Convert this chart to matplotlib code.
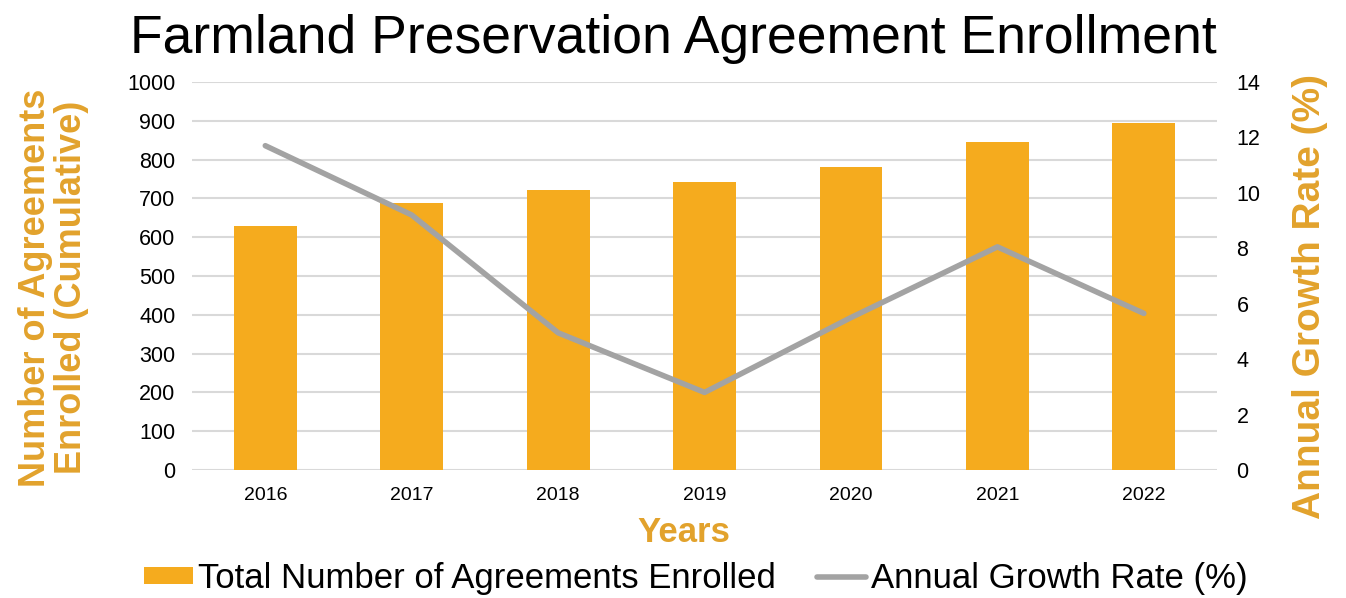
import matplotlib
matplotlib.use("Agg")
import matplotlib.pyplot as plt
import numpy as np

# Dane
years = ["2016", "2017", "2018", "2019", "2020", "2021", "2022"]
enrolled = [629, 688, 722, 742, 781, 845, 894]
growth_rate = [11.7, 9.2, 4.95, 2.8, 5.5, 8.05, 5.65]

BAR_COLOR = "#F5AB1E"
LINE_COLOR = "#A3A3A3"
LABEL_COLOR = "#E2A22C"

plt.rcParams["font.family"] = ["Liberation Sans", "DejaVu Sans"]

fig = plt.figure(figsize=(13.46, 5.98), dpi=100)
ax = fig.add_axes([0.1427, 0.214, 0.7615, 0.649])
ax2 = ax.twinx()

x = np.arange(len(years))
bars = ax.bar(x, enrolled, width=0.43, color=BAR_COLOR, zorder=2)
line, = ax2.plot(x, growth_rate, color=LINE_COLOR, lw=4, solid_capstyle="round", zorder=3)

ax.set_xlim(-0.5, len(years) - 0.5)
ax.set_ylim(0, 1000)
ax.set_yticks(range(0, 1001, 100))
ax2.set_ylim(0, 14)
ax2.set_yticks(range(0, 15, 2))

ax.grid(axis="y", color="#D9D9D9", lw=1.5, zorder=0)
ax.set_axisbelow(True)
for a in (ax, ax2):
    for s in a.spines.values():
        s.set_visible(False)
    a.tick_params(length=0, labelsize=15.5)
ax.tick_params(axis="y", pad=12)
ax.tick_params(axis="x", pad=12, labelsize=14)
ax2.tick_params(axis="y", pad=14)
ax.set_xticks(x)
ax.set_xticklabels(years)

# Etykiety osi
ax.set_ylabel("Number of Agreements\nEnrolled (Cumulative)", color=LABEL_COLOR,
              fontsize=26, fontweight="bold", linespacing=1.05, va="center")
ax.yaxis.set_label_coords(-0.135, 0.47)
ax2.set_ylabel("Annual Growth Rate (%)", color=LABEL_COLOR, fontsize=28,
               fontweight="bold", va="center")
ax2.yaxis.set_label_coords(1.091, 0.446)
ax.set_xlabel("Years", color=LABEL_COLOR, fontsize=25, fontweight="bold", va="center")
ax.xaxis.set_label_coords(0.48, -0.162)

fig.text(0.5, 1 - 39 / 598, "Farmland Preservation Agreement Enrollment",
         fontsize=38.5, ha="center", va="center")

fig.legend([bars, line], ["Total Number of Agreements Enrolled", "Annual Growth Rate (%)"],
           loc="center", bbox_to_anchor=(0.517, 0.033), ncol=2, frameon=False,
           fontsize=25, handlelength=1.4, handleheight=0.4, handletextpad=0.15,
           columnspacing=1.2)

fig.savefig("out.png", dpi=100)
